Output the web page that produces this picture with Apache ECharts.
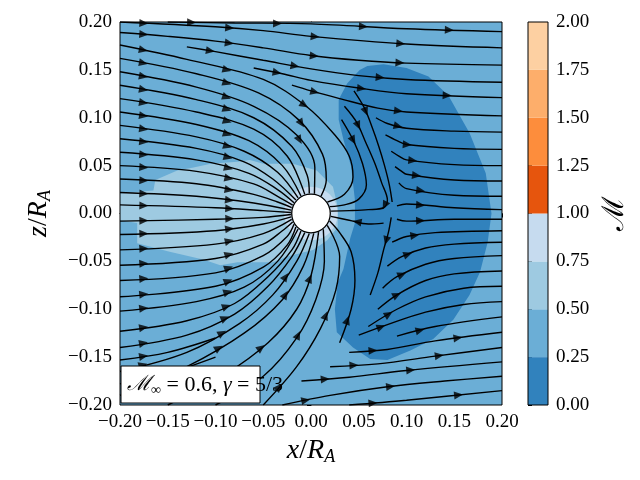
<!DOCTYPE html>
<html><head><meta charset="utf-8">
<script src="https://cdn.jsdelivr.net/npm/echarts@6/dist/echarts.min.js"></script>
<style>html,body{margin:0;padding:0;background:#fff}#c{width:640px;height:480px}</style>
</head><body><div id="c"></div>
<script>
// ---- colour levels (tab20c) ----
const levelEdges = [0, 0.25, 0.5, 0.75, 1.0, 1.25, 1.5, 1.75, 2.0];
const levelColors = ['#3182bd','#6baed6','#9ecae1','#c6dbef','#e6550d','#fd8d3c','#fdae6b','#fdd0a2'];

// ---- Mach-number regions (x/R_A, z/R_A) ----
const domainRegion = [[-0.2,-0.2],[0.2,-0.2],[0.2,0.2],[-0.2,0.2]];
const domainMach = 0.4;
const darkRegion = [[0.046,0.014],[0.042,0.049],[0.034,0.077],[0.029,0.098],[0.029,0.119],[0.038,0.136],
  [0.051,0.15],[0.059,0.154],[0.076,0.156],[0.1,0.152],[0.123,0.143],[0.144,0.123],[0.166,0.084],
  [0.183,0.042],[0.189,0.0],[0.185,-0.03],[0.177,-0.061],[0.166,-0.085],[0.149,-0.111],[0.128,-0.131],
  [0.104,-0.143],[0.08,-0.153],[0.062,-0.152],[0.044,-0.14],[0.027,-0.124],[0.025,-0.1],[0.028,-0.072],
  [0.034,-0.058],[0.041,-0.026],[0.046,-0.01]];
const darkMach = 0.15;
const lightRegion = [[-0.2,0.021],[-0.165,0.024],[-0.163,0.035],[-0.14,0.045],[-0.123,0.048],[-0.105,0.052],
  [-0.077,0.054],[-0.064,0.056],[-0.05,0.052],[-0.019,0.052],[0.006,0.045],[0.023,0.028],[0.028,0.007],
  [0.028,-0.014],[0.017,-0.028],[0.002,-0.038],[-0.025,-0.045],[-0.04,-0.051],[-0.077,-0.051],
  [-0.095,-0.054],[-0.113,-0.048],[-0.148,-0.04],[-0.182,-0.031],[-0.182,-0.01],[-0.2,-0.007]];
const lightMach = 0.6;
const ringRadius = 0.028;
const ringMach = 0.85;
const accretorRadius = 0.0202;

// ---- axis ticks ----
const xTicks = [-0.2,-0.15,-0.1,-0.05,0,0.05,0.1,0.15,0.2];
const zTicks = [-0.2,-0.15,-0.1,-0.05,0,0.05,0.1,0.15,0.2];
const cbarTicks = [0,0.25,0.5,0.75,1,1.25,1.5,1.75,2];

// ---- streamlines, upstream -> downstream ----
const streamlines = [
 // top band, leaving through the right edge
 [[-0.15,0.2],[-0.08,0.199],[0.0,0.198],[0.1,0.193],[0.2,0.19]],
 [[-0.2,0.2],[-0.1,0.195],[-0.05,0.191],[0.0,0.185],[0.1,0.177],[0.2,0.173]],
 [[-0.2,0.189],[-0.15,0.185],[-0.1,0.18],[-0.05,0.173],[0.0,0.165],[0.05,0.16],[0.1,0.157],[0.2,0.155]],
 [[-0.13,0.174],[-0.1,0.169],[-0.05,0.16],[0.0,0.151],[0.05,0.144],[0.1,0.14],[0.2,0.137]],
 [[-0.06,0.152],[-0.03,0.146],[0.0,0.139],[0.05,0.131],[0.1,0.125],[0.2,0.121]],
 [[-0.02,0.134],[0.0,0.128],[0.03,0.12],[0.07,0.11],[0.1,0.106],[0.2,0.102]],
 [[0.068,0.1],[0.08,0.094],[0.1,0.089],[0.15,0.086],[0.2,0.085]],
 [[0.078,0.082],[0.09,0.076],[0.1,0.072],[0.15,0.068],[0.2,0.067]],
 [[0.084,0.065],[0.092,0.06],[0.1,0.056],[0.15,0.051],[0.2,0.05]],
 [[0.088,0.049],[0.095,0.044],[0.1,0.041],[0.15,0.035],[0.2,0.034]],
 [[0.092,0.032],[0.1,0.026],[0.15,0.019],[0.2,0.018]],
 [[0.09,0.008],[0.1,0.01],[0.15,0.006],[0.2,0.004]],
 // upper half, into the accretor
 [[-0.2,0.009],[-0.1,0.006],[-0.05,0.003],[-0.021,0.001]],
 [[-0.2,0.022],[-0.12,0.018],[-0.06,0.011],[-0.0208,0.0035]],
 [[-0.2,0.036],[-0.12,0.031],[-0.06,0.02],[-0.035,0.012],[-0.0202,0.0062]],
 [[-0.2,0.05],[-0.12,0.044],[-0.06,0.031],[-0.035,0.018],[-0.0192,0.0088]],
 [[-0.2,0.064],[-0.12,0.056],[-0.065,0.042],[-0.035,0.025],[-0.0178,0.0113]],
 [[-0.2,0.078],[-0.12,0.068],[-0.07,0.054],[-0.04,0.036],[-0.0158,0.014]],
 [[-0.2,0.092],[-0.12,0.08],[-0.07,0.065],[-0.035,0.043],[-0.0135,0.0162]],
 [[-0.2,0.106],[-0.12,0.093],[-0.065,0.076],[-0.03,0.05],[-0.0105,0.0182]],
 [[-0.2,0.12],[-0.12,0.106],[-0.06,0.088],[-0.025,0.06],[-0.0065,0.02]],
 [[-0.2,0.134],[-0.12,0.119],[-0.06,0.1],[-0.02,0.07],[-0.004,0.04],[-0.0018,0.0209]],
 [[-0.2,0.148],[-0.12,0.132],[-0.06,0.112],[-0.015,0.082],[0.004,0.048],[0.0036,0.0207]],
 [[-0.2,0.162],[-0.12,0.146],[-0.055,0.126],[-0.012,0.097],[0.012,0.062],[0.016,0.035],[0.0105,0.0182]],
 [[-0.2,0.176],[-0.13,0.161],[-0.05,0.14],[-0.005,0.112],[0.025,0.082],[0.04,0.06],[0.044,0.038],[0.035,0.02],[0.0172,0.012]],
 [[0.032,0.098],[0.045,0.075],[0.054,0.052],[0.058,0.03],[0.05,0.015],[0.035,0.009],[0.0197,0.0072]],
 [[0.035,0.112],[0.048,0.095],[0.057,0.075],[0.067,0.052],[0.074,0.032],[0.08,0.014],[0.076,0.006],[0.06,0.004],[0.04,0.003],[0.021,0.0025]],
 [[0.045,0.128],[0.056,0.11],[0.064,0.09],[0.071,0.07],[0.077,0.05],[0.082,0.03],[0.085,0.012]],
 // near the saddle, lower side
 [[0.076,-0.01],[0.06,-0.011],[0.04,-0.007],[0.0208,-0.003]],
 [[0.084,-0.004],[0.081,-0.02],[0.076,-0.038],[0.07,-0.062],[0.062,-0.085]],
 // lower right, leaving through the right edge
 [[0.09,-0.006],[0.1,-0.008],[0.15,-0.006],[0.2,-0.006]],
 [[0.085,-0.03],[0.1,-0.024],[0.13,-0.02],[0.2,-0.018]],
 [[0.08,-0.055],[0.095,-0.045],[0.12,-0.036],[0.15,-0.032],[0.2,-0.03]],
 [[0.075,-0.078],[0.09,-0.066],[0.12,-0.053],[0.15,-0.047],[0.2,-0.044]],
 [[0.07,-0.1],[0.09,-0.085],[0.12,-0.07],[0.15,-0.063],[0.2,-0.06]],
 [[0.06,-0.118],[0.09,-0.1],[0.12,-0.087],[0.16,-0.078],[0.2,-0.076]],
 [[0.05,-0.127],[0.08,-0.116],[0.12,-0.103],[0.16,-0.095],[0.2,-0.092]],
 [[0.09,-0.128],[0.13,-0.118],[0.2,-0.108]],
 [[0.04,-0.145],[0.08,-0.142],[0.13,-0.133],[0.2,-0.124]],
 [[0.02,-0.16],[0.07,-0.157],[0.13,-0.149],[0.2,-0.14]],
 [[-0.01,-0.175],[0.04,-0.171],[0.1,-0.164],[0.2,-0.155]],
 [[-0.03,-0.2],[0.02,-0.19],[0.08,-0.181],[0.14,-0.175],[0.2,-0.17]],
 [[0.04,-0.2],[0.1,-0.195],[0.2,-0.185]],
 // lower half, into the accretor
 [[-0.2,-0.008],[-0.1,-0.006],[-0.05,-0.004],[-0.021,-0.001]],
 [[-0.2,-0.022],[-0.1,-0.018],[-0.05,-0.011],[-0.0208,-0.0035]],
 [[-0.2,-0.038],[-0.1,-0.032],[-0.05,-0.021],[-0.0202,-0.0062]],
 [[-0.2,-0.054],[-0.1,-0.047],[-0.05,-0.032],[-0.03,-0.018],[-0.0192,-0.0088]],
 [[-0.2,-0.07],[-0.1,-0.062],[-0.05,-0.044],[-0.025,-0.024],[-0.0178,-0.0113]],
 [[-0.2,-0.087],[-0.1,-0.076],[-0.05,-0.056],[-0.025,-0.033],[-0.0158,-0.014]],
 [[-0.2,-0.102],[-0.12,-0.092],[-0.07,-0.077],[-0.035,-0.05],[-0.0135,-0.0162]],
 [[-0.2,-0.123],[-0.13,-0.112],[-0.08,-0.094],[-0.045,-0.066],[-0.02,-0.038],[-0.0105,-0.0182]],
 [[-0.2,-0.14],[-0.13,-0.127],[-0.08,-0.105],[-0.045,-0.076],[-0.02,-0.045],[-0.0065,-0.02]],
 [[-0.2,-0.153],[-0.15,-0.145],[-0.1,-0.13]],
 [[-0.2,-0.165],[-0.13,-0.145],[-0.075,-0.115],[-0.04,-0.085],[-0.015,-0.05],[-0.0018,-0.0209]],
 [[-0.2,-0.178],[-0.15,-0.167],[-0.1,-0.15]],
 [[-0.2,-0.19],[-0.13,-0.16],[-0.07,-0.125],[-0.03,-0.09],[-0.008,-0.055],[0.0029,-0.0208]],
 [[-0.15,-0.2],[-0.09,-0.168],[-0.045,-0.135],[-0.015,-0.1],[0.0,-0.065],[0.0079,-0.0195]],
 [[-0.1,-0.2],[-0.05,-0.17],[-0.015,-0.13],[0.005,-0.09],[0.014,-0.05],[0.0129,-0.0165]],
 [[-0.05,-0.2],[-0.015,-0.16],[0.01,-0.12],[0.026,-0.08],[0.03,-0.045],[0.017,-0.0123]],
 [[0.03,-0.135],[0.042,-0.1],[0.046,-0.07],[0.042,-0.04],[0.03,-0.02],[0.0195,-0.0079]]
];

// ---- build the chart ----
const machColor = m => levelColors[Math.min(levelColors.length - 1, Math.floor(m / 0.25))];
const regionPolys = [domainRegion, lightRegion, darkRegion];
const regionMach = [domainMach, lightMach, darkMach];

const serif = "'Liberation Serif','DejaVu Serif',serif";
const fmt = v => (v < 0 ? '\u2212' : '') + Math.abs(v).toFixed(2);

const series = [];
series.push({
  type: 'custom', xAxisIndex: 0, yAxisIndex: 0, silent: true, z: 1,
  data: regionPolys.map((p, i) => [p[0][0], p[0][1], i]),
  renderItem: (params, api) => {
    const i = api.value(2);
    return { type: 'polygon', shape: { points: regionPolys[i].map(p => api.coord(p)) },
             style: { fill: machColor(regionMach[i]), stroke: null } };
  }
});
series.push({
  type: 'custom', xAxisIndex: 0, yAxisIndex: 0, silent: true, z: 2,
  data: [[0, 0, ringRadius, ringMach]],
  renderItem: (params, api) => {
    const c = api.coord([api.value(0), api.value(1)]);
    const r = api.size([api.value(2), 0])[0];
    return { type: 'circle', shape: { cx: c[0], cy: c[1], r: r }, style: { fill: machColor(api.value(3)) } };
  }
});
series.push({
  type: 'custom', xAxisIndex: 0, yAxisIndex: 0, silent: true, z: 6,
  data: [[0, 0, accretorRadius]],
  renderItem: (params, api) => {
    const c = api.coord([api.value(0), api.value(1)]);
    const r = api.size([api.value(2), 0])[0];
    return { type: 'circle', shape: { cx: c[0], cy: c[1], r: r },
             style: { fill: '#fff', stroke: '#000', lineWidth: 1.3 } };
  }
});
streamlines.forEach(line => {
  series.push({
    type: 'line', xAxisIndex: 0, yAxisIndex: 0, data: line, smooth: 0.35, symbol: 'none',
    silent: true, z: 4, lineStyle: { color: '#000', width: 1.4 }, animation: false
  });
});
// arrowheads placed along each trajectory (first one just after the start, then every ~0.09)
const arrows = [];
streamlines.forEach(line => {
  const seg = [];
  let total = 0;
  for (let k = 1; k < line.length; k++) {
    const d = Math.hypot(line[k][0] - line[k-1][0], line[k][1] - line[k-1][1]);
    seg.push(d); total += d;
  }
  const stops = [];
  for (let s = 0.025; s < total - 0.045; s += 0.09) stops.push(s);
  if (!stops.length) stops.push(total / 2);
  stops.forEach(s => {
    let target = s;
    for (let k = 0; k < seg.length; k++) {
      if (target <= seg[k] || k === seg.length - 1) {
        const t = Math.min(1, target / seg[k]);
        const p0 = line[k], p1 = line[k+1];
        const ang = Math.atan2(p1[1] - p0[1], p1[0] - p0[0]) * 180 / Math.PI;
        arrows.push({ value: [p0[0] + t * (p1[0] - p0[0]), p0[1] + t * (p1[1] - p0[1])], symbolRotate: ang - 90 });
        break;
      }
      target -= seg[k];
    }
  });
});
series.push({
  type: 'scatter', xAxisIndex: 0, yAxisIndex: 0, data: arrows, symbol: 'triangle',
  symbolSize: [8, 9], itemStyle: { color: '#000' }, silent: true, z: 5, animation: false
});
// colour bar
series.push({
  type: 'custom', xAxisIndex: 1, yAxisIndex: 1, silent: true,
  data: levelColors.map((c, i) => [0, levelEdges[i], levelEdges[i+1], i]),
  renderItem: (params, api) => {
    const lo = api.coord([0, api.value(1)]);
    const hi = api.coord([1, api.value(2)]);
    return { type: 'rect', shape: { x: lo[0], y: hi[1], width: hi[0] - lo[0], height: lo[1] - hi[1] },
             style: { fill: levelColors[api.value(3)] } };
  }
});

const axisCommon = {
  axisLine: { show: true, lineStyle: { color: '#000', width: 1 } },
  axisTick: { show: true, inside: false, length: 4, lineStyle: { color: '#000' } },
  splitLine: { show: false },
  axisLabel: { color: '#000', fontFamily: serif, fontSize: 19, formatter: fmt }
};
const nameRich = {
  i: { fontFamily: serif, fontStyle: 'italic', fontSize: 28, color: '#000' },
  n: { fontFamily: serif, fontSize: 28, color: '#000' },
  s: { fontFamily: serif, fontStyle: 'italic', fontSize: 18, color: '#000', padding: [12, 0, 0, 0] }
};

const option = {
  animation: false,
  backgroundColor: '#fff',
  grid: [
    { left: 120, top: 22, width: 382, height: 383, show: true, borderColor: '#000', borderWidth: 1, backgroundColor: 'transparent', z: 10 },
    { left: 528, top: 22, width: 20, height: 383, show: true, borderColor: '#000', borderWidth: 1, backgroundColor: 'transparent', z: 10 }
  ],
  xAxis: [
    Object.assign({}, axisCommon, { gridIndex: 0, type: 'value', min: xTicks[0], max: xTicks[xTicks.length - 1],
      interval: xTicks[1] - xTicks[0],
      name: '{i|x}{n|/}{i|R}{s|A}', nameLocation: 'middle', nameGap: 31, nameTextStyle: { rich: nameRich } }),
    { gridIndex: 1, type: 'value', min: 0, max: 1, show: false }
  ],
  yAxis: [
    Object.assign({}, axisCommon, { gridIndex: 0, type: 'value', min: zTicks[0], max: zTicks[zTicks.length - 1],
      interval: zTicks[1] - zTicks[0],
      name: '{i|z}{n|/}{i|R}{s|A}', nameLocation: 'middle', nameGap: 66, nameRotate: 90, nameTextStyle: { rich: nameRich } }),
    Object.assign({}, axisCommon, { gridIndex: 1, type: 'value', min: cbarTicks[0], max: cbarTicks[cbarTicks.length - 1],
      interval: cbarTicks[1] - cbarTicks[0], position: 'right',
      axisLine: { show: false },
      name: '\u2133', nameLocation: 'middle', nameGap: 52, nameRotate: 90,
      nameTextStyle: { fontFamily: "'DejaVu Serif',serif", fontSize: 30, color: '#000' } })
  ],
  graphic: [
    { type: 'rect', z: 100, shape: { x: 121, y: 366, width: 139, height: 37 },
      style: { fill: '#fff', stroke: '#000', lineWidth: 1 } },
    { type: 'text', z: 101, x: 127, y: 385, style: {
        text: '{m|\u2133}{s|\u221e}{t| = 0.6, }{g|\u03b3}{t| = 5/3}', verticalAlign: 'middle', align: 'left',
        rich: {
          m: { fontFamily: "'DejaVu Serif',serif", fontStyle: 'italic', fontSize: 21, fill: '#000' },
          s: { fontFamily: serif, fontSize: 14, fill: '#000', padding: [10, 0, 0, 0] },
          t: { fontFamily: serif, fontSize: 22, fill: '#000' },
          g: { fontFamily: serif, fontStyle: 'italic', fontSize: 22, fill: '#000' }
        } } }
  ],
  series: series
};

const chart = echarts.init(document.getElementById('c'), null, { renderer: 'canvas' });
chart.setOption(option);
</script>
</body></html>
